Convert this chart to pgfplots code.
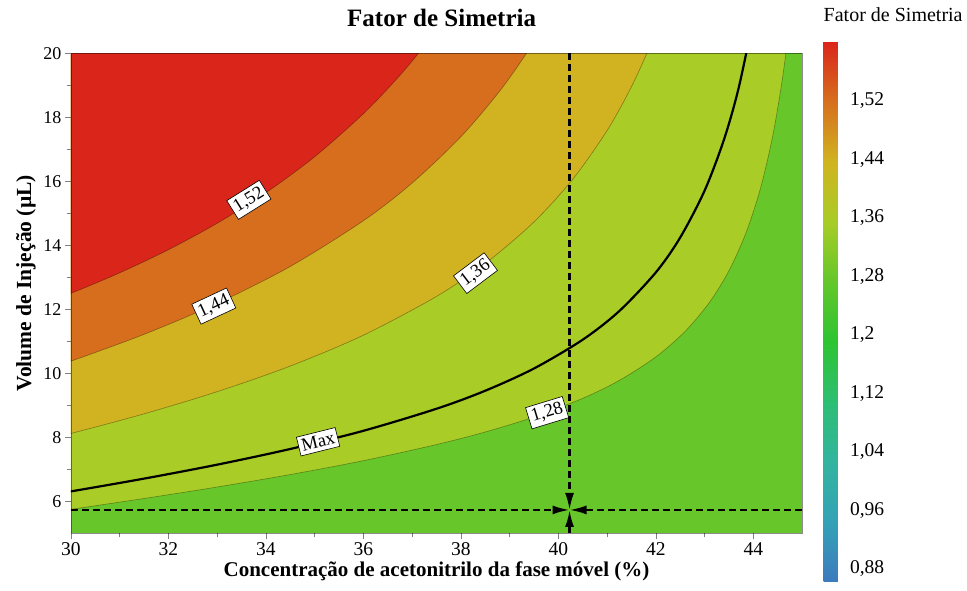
\documentclass[border=0pt]{standalone}
\usepackage{fontspec}
\setmainfont{Liberation Serif}
\usepackage{pgfplots}
\pgfplotsset{compat=1.18}
\usetikzlibrary{arrows.meta}

\definecolor{cRed}{RGB}{218,38,26}
\definecolor{cOrange}{RGB}{214,110,30}
\definecolor{cYellow}{RGB}{209,178,32}
\definecolor{cYG}{RGB}{169,204,38}
\definecolor{cGreen}{RGB}{103,199,42}

\pgfplotsset{
  colormap={fsmap}{rgb255=(60,122,190); rgb255=(52,162,182); rgb255=(50,180,160); rgb255=(46,190,115); rgb255=(45,196,50); rgb255=(100,199,42); rgb255=(168,204,38); rgb255=(208,180,32); rgb255=(214,112,30); rgb255=(218,38,26)},
  region/.style={smooth, draw=black, draw opacity=0.35, line width=0.6pt},
  cross/.style={black, line width=2.2pt, dash pattern=on 7pt off 4pt, -{Latex[length=17pt,width=9pt]}},
}
\tikzset{clabel/.style={fill=white, draw=black, line width=0.6pt, inner xsep=3pt, inner ysep=3.5pt, font=\fontsize{18.5}{20}\selectfont}}

\begin{document}
\begin{tikzpicture}
\begin{axis}[
  scale only axis, width=731pt, height=480pt,
  xmin=30, xmax=45, ymin=5, ymax=20,
  xtick={30,32,...,44}, ytick={6,8,...,20},
  minor x tick num=1, minor y tick num=1,
  tick align=outside, xtick pos=bottom, ytick pos=left,
  major tick length=6pt, minor tick length=4pt,
  tick style={gray, line width=0.6pt},
  axis line style={draw=black, draw opacity=0.45, line width=0.6pt},
  axis on top,
  /pgf/number format/assume math mode=true,
  xticklabel style={font=\fontsize{19.5}{22}\selectfont},
  yticklabel style={font=\fontsize{18}{21}\selectfont},
  title={Fator de Simetria},
  title style={font=\fontsize{25}{28}\selectfont\bfseries, at={(axis description cs:0.507,1.0438)}, anchor=base},
  xlabel={Concentração de acetonitrilo da fase móvel (\%)},
  xlabel style={font=\fontsize{21}{24}\selectfont\bfseries, at={(axis description cs:0.5,-0.091)}, anchor=base},
  ylabel={Volume de Injeção (µL)},
  ylabel style={font=\fontsize{21.5}{24}\selectfont\bfseries, at={(axis description cs:-0.0547,0.521)}, anchor=base},
  colormap name=fsmap,
  point meta min=0.862, point meta max=1.6,
  colorbar,
  colorbar style={
    at={(parent axis.north east)}, anchor=north west, xshift=13pt, yshift=11.3pt,
    width=23pt, height=540pt,
    ytick={0.88,0.96,1.04,1.12,1.2,1.28,1.36,1.44,1.52},
    major tick length=0pt,
    axis line style={draw=none},
    yticklabel style={font=\fontsize{19.5}{22}\selectfont, /pgf/number format/use comma, /pgf/number format/assume math mode=true},
    title={Fator de Simetria},
    title style={font=\fontsize{20}{23}\selectfont, at={(axis description cs:0,1)}, anchor=base west, yshift=14pt, inner sep=0pt},
  },
]
% background (below 1,28)
\addplot[fill=cGreen, draw=none] coordinates {(30,5) (45,5) (45,20) (30,20)} -- cycle;
% 1,28 - 1,36
\addplot[region, fill=cYG] coordinates {(29,5.534) (30,5.750) (31.5,6.088) (33,6.447) (34.5,6.836) (36,7.270) (37.5,7.773) (38.5,8.166) (39.5,8.634) (40.5,9.217) (41.25,9.776) (42,10.510) (42.6,11.307) (43.1,12.213) (43.5,13.201) (43.85,14.385) (44.15,15.791) (44.4,17.424) (44.6,19.229) (44.75,21.048) (44.85,23) (29,23)} -- cycle;
% 1,36 - 1,44
\addplot[region, fill=cYellow] coordinates {(29,7.744) (30,8.120) (31.5,8.734) (33,9.426) (34.5,10.227) (36,11.190) (37.5,12.403) (38.5,13.429) (39.5,14.730) (40.3,16.072) (41,17.585) (41.5,18.955) (41.9,20.299) (42.2,21.50) (42.45,23) (29,23)} -- cycle;
% 1,44 - 1,52
\addplot[region, fill=cOrange] coordinates {(29,9.877) (30,10.380) (31.5,11.218) (33,12.186) (34.5,13.339) (36,14.768) (37,15.946) (38,17.393) (38.8,18.825) (39.4,20.127) (39.9,21.411) (40.5,23) (29,23)} -- cycle;
% > 1,52
\addplot[region, fill=cRed] coordinates {(29,11.927) (30,12.500) (31,13.140) (32,13.863) (33,14.689) (34,15.644) (35,16.767) (36,18.112) (36.7,19.227) (37.2,20.134) (37.7,21.155) (38.5,23) (29,23)} -- cycle;
% Max line
\addplot[smooth, black, line width=2.2pt] coordinates {(29,6.060) (30,6.310) (31.5,6.709) (33,7.145) (34.5,7.635) (36,8.203) (37.5,8.892) (38.5,9.455) (39.5,10.150) (40.5,11.050) (41.25,11.944) (42,13.152) (42.5,14.241) (43,15.704) (43.4,17.308) (43.7,18.915) (44.0,21.073)};
% crosshair
\addplot[cross] coordinates {(40.23,20) (40.23,5.73)};
\addplot[cross] coordinates {(40.23,5) (40.23,5.73)};
\addplot[cross] coordinates {(30,5.73) (40.23,5.73)};
\addplot[cross] coordinates {(45,5.73) (40.23,5.73)};
% contour labels
\node[clabel, rotate=32] at (axis cs:33.65,15.42) {1,52};
\node[clabel, rotate=25] at (axis cs:32.93,12.10) {1,44};
\node[clabel, rotate=37] at (axis cs:38.30,13.13) {1,36};
\node[clabel, rotate=14] at (axis cs:35.07,7.86) {Max};
\node[clabel, rotate=17] at (axis cs:39.77,8.77) {1,28};
\end{axis}
\pgfresetboundingbox
\path[use as bounding box] (-71pt,-57.7pt) rectangle (896pt,533.3pt);
\end{tikzpicture}
\end{document}
